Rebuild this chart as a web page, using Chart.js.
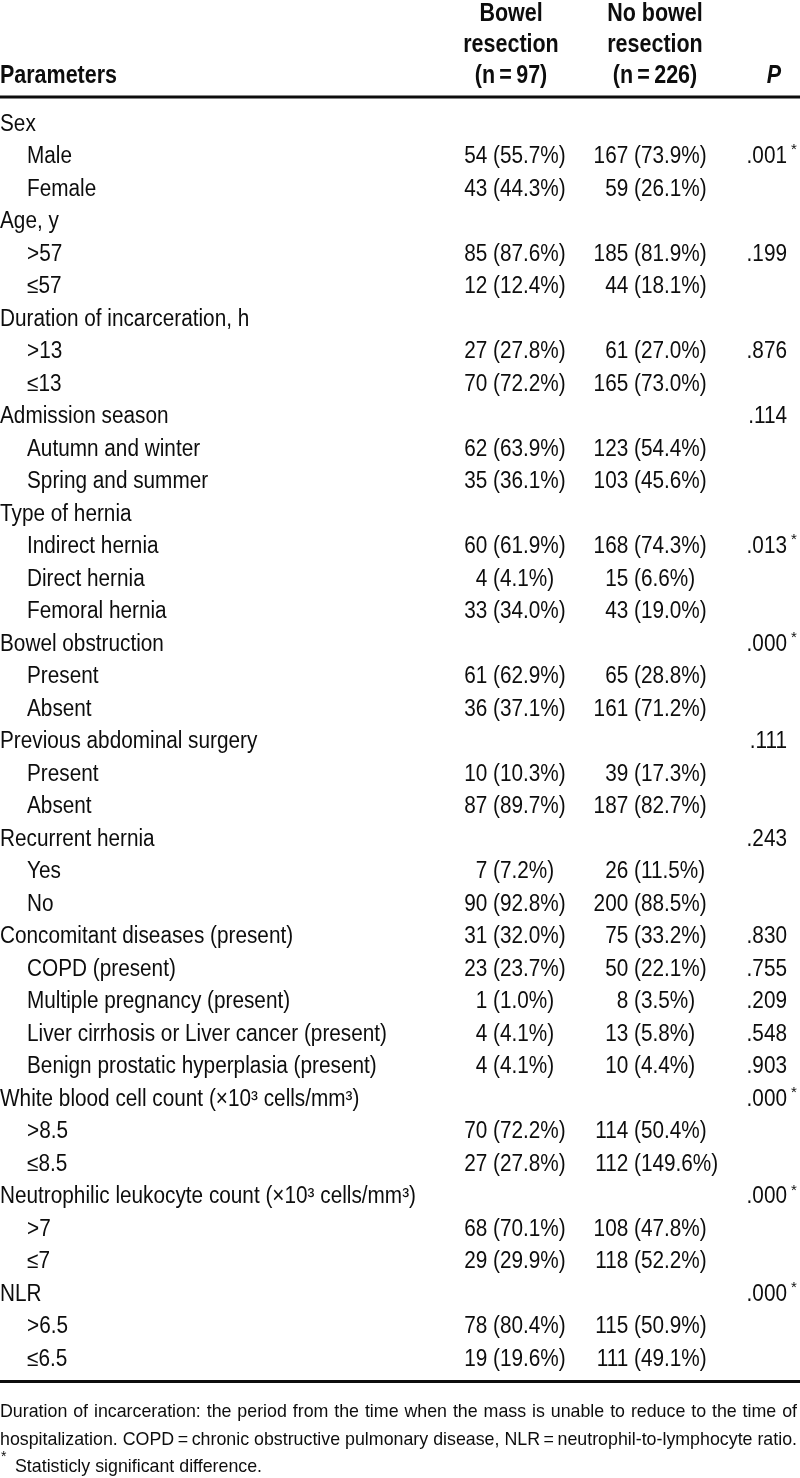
<!DOCTYPE html>
<html>
<head>
<meta charset="utf-8">
<script src="https://cdn.jsdelivr.net/npm/chart.js@4.4.1/dist/chart.umd.min.js"></script>
<style>
  html, body { margin: 0; padding: 0; background: #ffffff; }
  #wrap { width: 800px; height: 1478px; position: relative; }
  canvas { display: block; }
</style>
</head>
<body>
<div id="wrap"><canvas id="c" width="800" height="1478"></canvas></div>
<script>
// ---------------- DATA ----------------
const rowLabels = [
  "Sex", "Male", "Female",
  "Age, y", ">57", "\u226457",
  "Duration of incarceration, h", ">13", "\u226413",
  "Admission season", "Autumn and winter", "Spring and summer",
  "Type of hernia", "Indirect hernia", "Direct hernia", "Femoral hernia",
  "Bowel obstruction", "Present", "Absent",
  "Previous abdominal surgery", "Present", "Absent",
  "Recurrent hernia", "Yes", "No",
  "Concomitant diseases (present)", "COPD (present)", "Multiple pregnancy (present)",
  "Liver cirrhosis or Liver cancer (present)", "Benign prostatic hyperplasia (present)",
  "White blood cell count (\u00d710\u00b3 cells/mm\u00b3)", ">8.5", "\u22648.5",
  "Neutrophilic leukocyte count (\u00d710\u00b3 cells/mm\u00b3)", ">7", "\u22647",
  "NLR", ">6.5", "\u22646.5"
];
const rowLevels = [
  0, 1, 1,
  0, 1, 1,
  0, 1, 1,
  0, 1, 1,
  0, 1, 1, 1,
  0, 1, 1,
  0, 1, 1,
  0, 1, 1,
  0, 1, 1, 1, 1,
  0, 1, 1,
  0, 1, 1,
  0, 1, 1
];
const bowelCounts = [
  null, 54, 43,
  null, 85, 12,
  null, 27, 70,
  null, 62, 35,
  null, 60, 4, 33,
  null, 61, 36,
  null, 10, 87,
  null, 7, 90,
  31, 23, 1, 4, 4,
  null, 70, 27,
  null, 68, 29,
  null, 78, 19
];
const bowelPercents = [
  null, 55.7, 44.3,
  null, 87.6, 12.4,
  null, 27.8, 72.2,
  null, 63.9, 36.1,
  null, 61.9, 4.1, 34.0,
  null, 62.9, 37.1,
  null, 10.3, 89.7,
  null, 7.2, 92.8,
  32.0, 23.7, 1.0, 4.1, 4.1,
  null, 72.2, 27.8,
  null, 70.1, 29.9,
  null, 80.4, 19.6
];
const noBowelCounts = [
  null, 167, 59,
  null, 185, 44,
  null, 61, 165,
  null, 123, 103,
  null, 168, 15, 43,
  null, 65, 161,
  null, 39, 187,
  null, 26, 200,
  75, 50, 8, 13, 10,
  null, 114, 112,
  null, 108, 118,
  null, 115, 111
];
const noBowelPercents = [
  null, 73.9, 26.1,
  null, 81.9, 18.1,
  null, 27.0, 73.0,
  null, 54.4, 45.6,
  null, 74.3, 6.6, 19.0,
  null, 28.8, 71.2,
  null, 17.3, 82.7,
  null, 11.5, 88.5,
  33.2, 22.1, 3.5, 5.8, 4.4,
  null, 50.4, 149.6,
  null, 47.8, 52.2,
  null, 50.9, 49.1
];
const pValues = [
  null, 0.001, null,
  null, 0.199, null,
  null, 0.876, null,
  0.114, null, null,
  null, 0.013, null, null,
  0.000, null, null,
  0.111, null, null,
  0.243, null, null,
  0.830, 0.755, 0.209, 0.548, 0.903,
  0.000, null, null,
  0.000, null, null,
  0.000, null, null
];
const pSignificant = [
  false, true, false,
  false, false, false,
  false, false, false,
  false, false, false,
  false, true, false, false,
  true, false, false,
  false, false, false,
  false, false, false,
  false, false, false, false, false,
  true, false, false,
  true, false, false,
  true, false, false
];
const headerParameters = "Parameters";
const headerBowel = ["Bowel", "resection", "(n\u2009=\u200997)"];
const headerNoBowel = ["No bowel", "resection", "(n\u2009=\u2009226)"];
const headerP = "P";
const footnoteLines = [
  "Duration of incarceration: the period from the time when the mass is unable to reduce to the time of",
  "hospitalization. COPD\u2009=\u2009chronic obstructive pulmonary disease, NLR\u2009=\u2009neutrophil-to-lymphocyte ratio."
];
const footnoteStar = "Statisticly significant difference.";

// ---------------- LAYOUT / STYLE ----------------
const INK = "#0d0d0d";
const FAMILY = "'Liberation Sans', Arial, Helvetica, sans-serif";
const COL = { bowelParen: 493, noBowelParen: 634, pRight: 787 };

function cellPoints(counts, pcts, xPos) {
  const pts = [];
  counts.forEach((n, i) => {
    if (n !== null) pts.push({ x: xPos, y: i, n: n, pct: pcts[i] });
  });
  return pts;
}
function pPoints() {
  const pts = [];
  pValues.forEach((p, i) => {
    if (p !== null) pts.push({ x: COL.pRight, y: i, p: p, sig: pSignificant[i] });
  });
  return pts;
}

function drawScaled(ctx, text, x, y, sx, align) {
  const w = ctx.measureText(text).width * sx;
  let left = x;
  if (align === 'right') left = x - w;
  else if (align === 'center') left = x - w / 2;
  ctx.save();
  ctx.translate(left, y);
  ctx.scale(sx, 1);
  ctx.textAlign = 'left';
  ctx.textBaseline = 'alphabetic';
  ctx.fillText(text, 0, 0);
  ctx.restore();
  return w;
}

const tablePlugin = {
  id: 'tableText',
  afterDatasetsDraw(chart) {
    const ctx = chart.ctx;
    const ys = chart.scales.y;
    ctx.save();
    ctx.fillStyle = INK;

    const bodySize = 23;
    const bodyFont = bodySize + "px " + FAMILY;
    const boldFont = "bold 25px " + FAMILY;
    const boldItalic = "italic bold 25px " + FAMILY;
    const supFont = "15px " + FAMILY;

    ctx.font = bodyFont;
    const sx = 360 / ctx.measureText("Liver cirrhosis or Liver cancer (present)").width;
    const capOff = 7.9;
    ctx.font = boldFont;
    const sxB = 117 / ctx.measureText(headerParameters).width;

    // header
    const hRows = [21, 52, 83];
    ctx.font = boldFont;
    drawScaled(ctx, headerParameters, 0, hRows[2], sxB, 'left');
    headerBowel.forEach((t, k) => drawScaled(ctx, t, 511, hRows[k], sxB, 'center'));
    headerNoBowel.forEach((t, k) => drawScaled(ctx, t, 655, hRows[k], sxB, 'center'));
    ctx.font = boldItalic;
    drawScaled(ctx, headerP, 774, hRows[2], sxB, 'center');

    // rules
    ctx.fillRect(0, 95.5, 800, 3);
    ctx.fillRect(0, 1380, 800, 3);

    // row labels
    ctx.font = bodyFont;
    rowLabels.forEach((lab, i) => {
      const y = ys.getPixelForValue(i) + capOff;
      drawScaled(ctx, lab, rowLevels[i] ? 27 : 0, y, sx, 'left');
    });

    // cells
    const spaceW = ctx.measureText(" ").width * sx;
    [0, 1].forEach(di => {
      const meta = chart.getDatasetMeta(di);
      const ds = chart.data.datasets[di];
      meta.data.forEach((el, j) => {
        const d = ds.data[j];
        const y = el.y + capOff;
        ctx.font = bodyFont;
        drawScaled(ctx, String(d.n), el.x - spaceW, y, sx, 'right');
        drawScaled(ctx, "(" + d.pct.toFixed(1) + "%)", el.x, y, sx, 'left');
      });
    });
    const pm = chart.getDatasetMeta(2);
    const pds = chart.data.datasets[2];
    pm.data.forEach((el, j) => {
      const d = pds.data[j];
      const y = el.y + capOff;
      ctx.font = bodyFont;
      const s = d.p.toFixed(3).replace(/^0/, "");
      drawScaled(ctx, s, el.x, y, sx, 'right');
      if (d.sig) {
        ctx.font = supFont;
        drawScaled(ctx, "*", el.x + 4, el.y - 1, 1, 'left');
      }
    });

    // footnotes
    const fSize = 19;
    const fFont = fSize + "px " + FAMILY;
    ctx.font = fFont;
    const natural2 = ctx.measureText(footnoteLines[1]).width;
    const sxF = 797 / natural2;
    const fBase = [1417, 1445, 1472];
    footnoteLines.forEach((line, k) => {
      const words = line.split(' ');
      const ww = words.map(w => ctx.measureText(w).width * sxF);
      const tot = ww.reduce((a, b) => a + b, 0);
      const gap = (797 - tot) / (words.length - 1);
      let x = 0;
      words.forEach((w, m) => { drawScaled(ctx, w, x, fBase[k], sxF, 'left'); x += ww[m] + gap; });
    });
    drawScaled(ctx, footnoteStar, 15, fBase[2], sxF, 'left');
    ctx.font = "14px " + FAMILY;
    drawScaled(ctx, "*", 1, 1461, 1, 'left');

    ctx.restore();
  }
};

new Chart(document.getElementById('c'), {
  type: 'scatter',
  data: {
    datasets: [
      { label: 'Bowel resection (n = 97)', data: cellPoints(bowelCounts, bowelPercents, COL.bowelParen), pointRadius: 0 },
      { label: 'No bowel resection (n = 226)', data: cellPoints(noBowelCounts, noBowelPercents, COL.noBowelParen), pointRadius: 0 },
      { label: 'P', data: pPoints(), pointRadius: 0 }
    ]
  },
  options: {
    responsive: false,
    devicePixelRatio: 1,
    animation: false,
    events: [],
    layout: { padding: { top: 106.7, bottom: 103.7, left: 0, right: 0 } },
    plugins: { legend: { display: false }, tooltip: { enabled: false } },
    scales: {
      x: { type: 'linear', min: 0, max: 800, display: false },
      y: { type: 'linear', min: -0.5, max: rowLabels.length - 0.5, reverse: true, display: false }
    }
  },
  plugins: [tablePlugin]
});
</script>
</body>
</html>
